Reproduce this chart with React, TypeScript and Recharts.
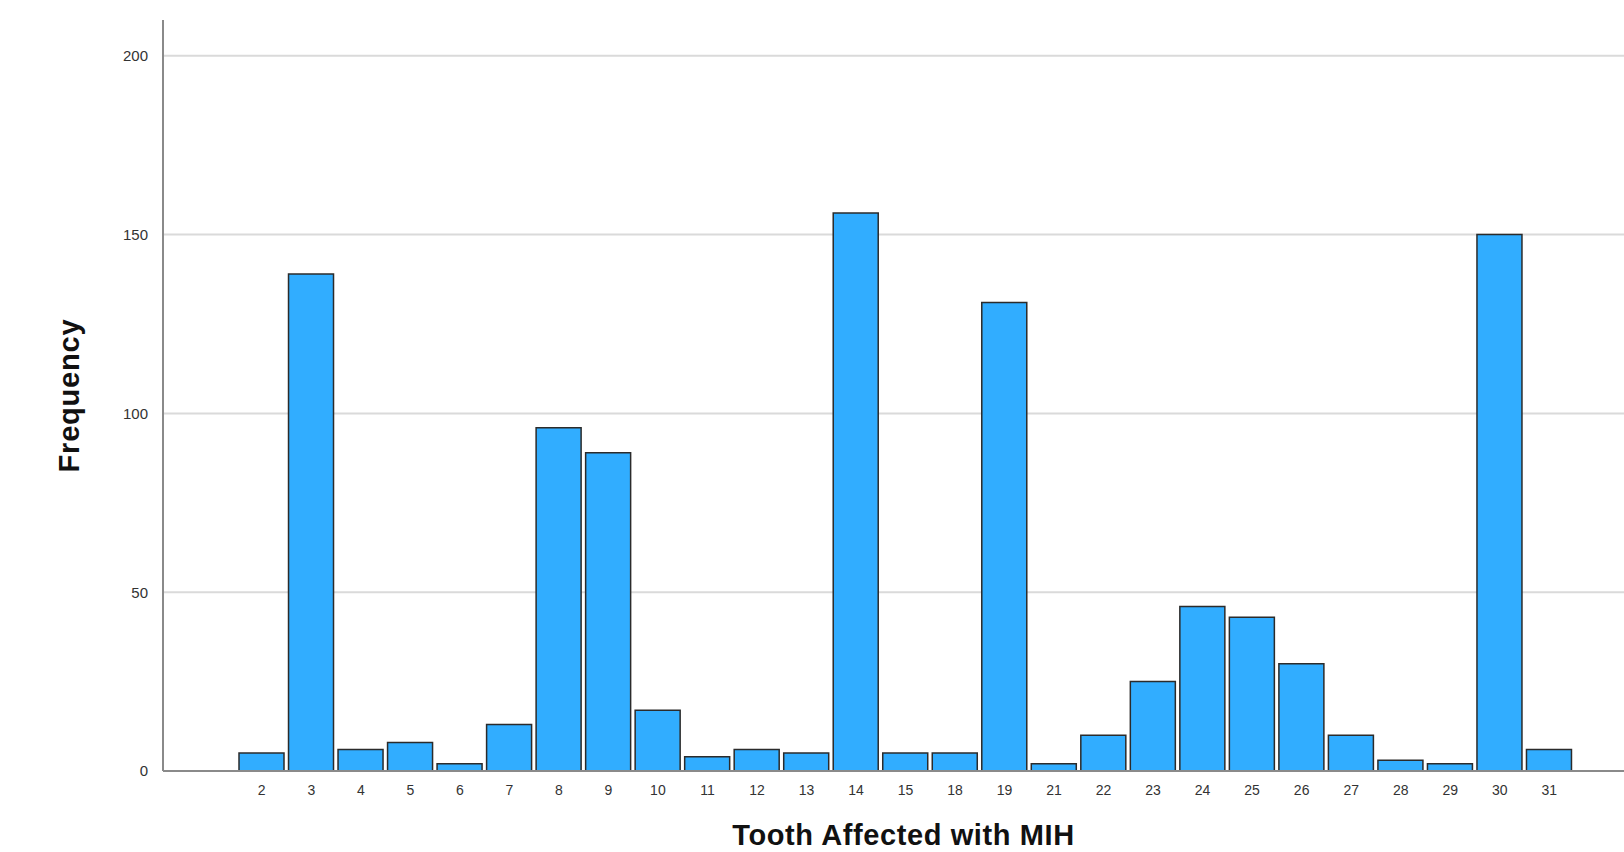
import React from "react";
import { BarChart, Bar, XAxis, YAxis, CartesianGrid, Label } from "recharts";

const teeth = ["2","3","4","5","6","7","8","9","10","11","12","13","14","15","18","19","21","22","23","24","25","26","27","28","29","30","31"];
const frequency = [5,139,6,8,2,13,96,89,17,4,6,5,156,5,5,131,2,10,25,46,43,30,10,3,2,150,6];
const yTicks = [0, 50, 100, 150, 200];
const gridValues = [50, 100, 150, 200];
const yLabel = "Frequency";
const xLabel = "Tooth Affected with MIH";

const data = teeth.map((t, i) => ({ tooth: t, freq: frequency[i] }));

const FONT = "'Liberation Sans', Arial, sans-serif";

const YLabelContent = (props: any) => {
  const vb = props.viewBox || {};
  const cx = 79;
  const cy = (vb.y ?? 20) + (vb.height ?? 751) / 2;
  return (
    <text
      x={cx}
      y={cy}
      transform={`rotate(-90, ${cx}, ${cy})`}
      textAnchor="middle"
      fontFamily={FONT}
      fontWeight="bold"
      fontSize={29}
      letterSpacing={0.8}
      fill="#111"
    >
      {yLabel}
    </text>
  );
};

export default function App() {
  return (
    <div style={{ position: "absolute", left: 0, top: 0, width: 1624, height: 852, background: "#fff" }}>
      <BarChart
        width={1624}
        height={852}
        data={data}
        margin={{ top: 20, right: 0, bottom: 0, left: 0 }}
      >
        <CartesianGrid vertical={false} horizontalValues={gridValues} stroke="#dadada" strokeWidth={2} />
        <XAxis
          dataKey="tooth"
          type="category"
          height={81}
          padding={{ left: 74, right: 50 }}
          tickLine={false}
          tickSize={0}
          tickMargin={14}
          axisLine={{ stroke: "#8a8a8a", strokeWidth: 2 }}
          tick={{ fontSize: 14, fill: "#333", fontFamily: FONT }}
          interval={0}
        >
          <Label
            value={xLabel}
            position="insideBottom"
            offset={7}
            dx={10}
            style={{ fontFamily: FONT, fontWeight: "bold", fontSize: 29, letterSpacing: 0.6, fill: "#111" }}
          />
        </XAxis>
        <YAxis
          width={163}
          domain={[0, 210]}
          ticks={yTicks}
          tickLine={false}
          tickSize={0}
          tickMargin={15}
          axisLine={{ stroke: "#8a8a8a", strokeWidth: 2 }}
          tick={{ fontSize: 15, fill: "#333", fontFamily: FONT }}
        >
          <Label content={<YLabelContent />} />
        </YAxis>
        <Bar
          dataKey="freq"
          barSize={45}
          fill="#31adff"
          stroke="#2b2b2b"
          strokeWidth={1.5}
          isAnimationActive={false}
        />
      </BarChart>
    </div>
  );
}
